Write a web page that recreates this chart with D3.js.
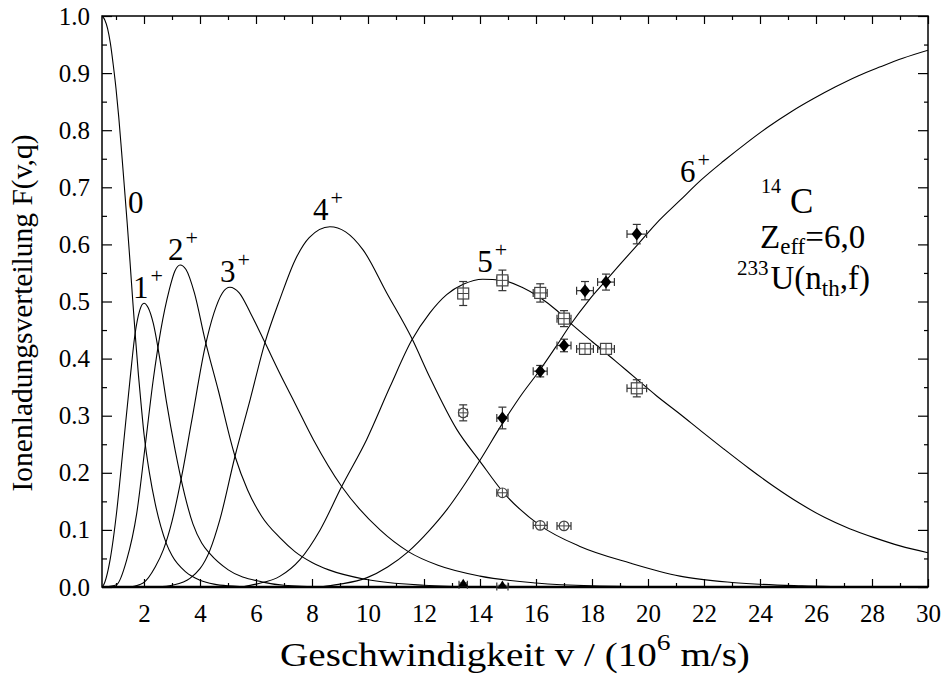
<!DOCTYPE html>
<html>
<head>
<meta charset="utf-8">
<script src="https://cdn.jsdelivr.net/npm/d3@7"></script>
<style>
  body { margin: 0; background: #fff; }
  svg text { font-family: "Liberation Serif", "Times New Roman", serif; fill: #000; }
</style>
</head>
<body>
<div id="chart"></div>
<script>
// charge state curves F(v,q) as [v, F]
const curve0 = [[0.5,1.0],[0.6,0.993],[0.7,0.978],[0.8,0.952],[0.9,0.915],[1.0,0.873],[1.1,0.822],[1.2,0.762],[1.3,0.70],[1.4,0.637],[1.5,0.57],[1.6,0.50],[1.7,0.434],[1.8,0.372],[1.9,0.318],[2.0,0.268],[2.2,0.198],[2.4,0.146],[2.6,0.106],[2.8,0.076],[3.0,0.055],[3.5,0.026],[4.0,0.012],[4.5,0.005],[5.0,0.002],[6.0,0.0]];
const curve1 = [[0.5,0.0],[0.55,0.003],[0.79,0.048],[1.02,0.13],[1.26,0.246],[1.5,0.363],[1.68,0.443],[1.85,0.485],[2.0,0.497],[2.15,0.489],[2.33,0.462],[2.57,0.398],[2.81,0.322],[3.11,0.24],[3.46,0.16],[3.75,0.11],[4.06,0.077],[4.36,0.058],[5.01,0.030],[6.2,0.009],[7.0,0.003],[8.5,0.0]];
const curve2 = [[0.6,0.0],[1.02,0.004],[1.38,0.047],[1.74,0.129],[2.04,0.246],[2.33,0.363],[2.6,0.45],[2.9,0.52],[3.1,0.553],[3.29,0.564],[3.5,0.556],[3.8,0.515],[4.18,0.433],[4.65,0.345],[5.25,0.229],[5.7,0.17],[6.2,0.124],[6.86,0.086],[7.39,0.062],[8.0,0.043],[8.6,0.03],[9.95,0.013],[12.0,0.003],[14.0,0.0]];
const curve3 = [[1.5,0.0],[1.97,0.007],[2.4,0.035],[2.69,0.065],[3.0,0.115],[3.35,0.195],[3.7,0.29],[4.18,0.42],[4.5,0.48],[4.8,0.515],[5.07,0.525],[5.4,0.515],[5.8,0.48],[6.32,0.428],[6.86,0.373],[7.39,0.322],[8.05,0.258],[9.06,0.176],[10.43,0.10],[11.44,0.062],[12.5,0.038],[14.0,0.019],[16.0,0.007],[18.0,0.002],[21.0,0.0]];
const curve4 = [[2.5,0.0],[3.0,0.003],[3.64,0.015],[4.36,0.065],[4.71,0.118],[5.25,0.229],[5.8,0.33],[6.32,0.428],[6.86,0.505],[7.39,0.572],[7.9,0.612],[8.64,0.631],[9.2,0.622],[9.83,0.59],[10.67,0.515],[11.56,0.436],[12.21,0.367],[13.17,0.276],[14.0,0.22],[14.81,0.167],[16.14,0.108],[17.57,0.071],[19.36,0.042],[21.14,0.019],[23.0,0.008],[25.5,0.002],[28.0,0.0]];
const curve5 = [[5.5,0.0],[6.0,0.005],[6.86,0.019],[7.57,0.048],[8.29,0.10],[9.06,0.176],[9.95,0.258],[10.79,0.351],[11.56,0.432],[12.21,0.48],[12.81,0.512],[13.4,0.53],[14.1,0.539],[14.81,0.537],[15.5,0.525],[16.14,0.507],[16.7,0.486],[17.21,0.463],[18.0,0.43],[18.52,0.409],[19.0,0.389],[19.6,0.364],[20.3,0.335],[21.14,0.303],[21.9,0.273],[22.7,0.242],[23.6,0.208],[24.5,0.176],[25.4,0.147],[26.3,0.122],[27.2,0.102],[28.1,0.086],[29.0,0.072],[30.0,0.06]];
const curve6 = [[7.8,0.0],[8.4,0.001],[9.0,0.005],[9.95,0.016],[10.7,0.035],[11.44,0.062],[12.21,0.10],[12.81,0.135],[13.4,0.176],[14.0,0.222],[14.81,0.287],[15.5,0.338],[16.14,0.38],[16.7,0.42],[17.21,0.458],[17.9,0.503],[18.52,0.538],[19.0,0.565],[19.6,0.598],[20.3,0.637],[21.14,0.677],[21.9,0.713],[22.7,0.746],[23.5,0.777],[24.3,0.806],[25.1,0.832],[25.9,0.855],[26.7,0.876],[27.5,0.895],[28.3,0.911],[29.1,0.926],[30.0,0.94]];

// measured points
const vSquares = [13.4, 14.8, 16.15, 17.0, 17.75, 18.5, 19.6];
const fSquares = [0.514, 0.537, 0.515, 0.470, 0.417, 0.417, 0.348];
const eSquares = [0.021, 0.018, 0.016, 0.014, 0.006, 0.006, 0.015];
const vDiamonds = [14.8, 16.15, 17.0, 17.75, 18.5, 19.6];
const fDiamonds = [0.296, 0.378, 0.423, 0.519, 0.534, 0.618];
const eDiamonds = [0.019, 0.010, 0.011, 0.016, 0.014, 0.017];
const vCircles = [13.4, 14.8, 16.15, 17.0];
const fCircles = [0.305, 0.165, 0.108, 0.107];
const eCircles = [0.014, 0.004, 0.004, 0.004];
const vTriangles = [13.4, 14.8];
const fTriangles = [0.004, 0.001];
const eTriangles = [0.003, 0.002];
const dvByV = { 13.4: 0.15, 14.8: 0.2, 16.15: 0.25, 17.0: 0.25, 17.75: 0.3, 18.5: 0.3, 19.6: 0.35 };

const xMajor = [2, 4, 6, 8, 10, 12, 14, 16, 18, 20, 22, 24, 26, 28, 30];
const yMajor = [0.0, 0.1, 0.2, 0.3, 0.4, 0.5, 0.6, 0.7, 0.8, 0.9, 1.0];

const curveLabels = [
  { q: "0", v: 1.43, f: 0.655, plus: false },
  { q: "1", v: 1.61, f: 0.506, plus: true },
  { q: "2", v: 2.86, f: 0.573, plus: true },
  { q: "3", v: 4.71, f: 0.535, plus: true },
  { q: "4", v: 8.04, f: 0.643, plus: true },
  { q: "5", v: 13.9, f: 0.552, plus: true },
  { q: "6", v: 21.14, f: 0.71, plus: true },
];

const width = 948, height = 679;
const mLeft = 102, mRight = 928, mTop = 16, mBottom = 587;

const svg = d3.select("#chart").append("svg")
  .attr("width", width).attr("height", height);

const x = d3.scaleLinear().domain([0.5, 30]).range([mLeft, mRight]);
const y = d3.scaleLinear().domain([0, 1]).range([mBottom, mTop]);

// Axes with inward ticks
const range = (a, b, s) => d3.range(a, b + s / 2, s);
const xMinor = range(1, 29, 2);
const yMinor = range(0.05, 0.95, 0.1);

function axis(gen, tr, ticks, size, labels) {
  const g = svg.append("g").attr("transform", tr)
    .call(gen.tickValues(ticks).tickSize(-size).tickPadding(labels ? labels.pad : 0)
      .tickFormat(labels ? labels.fmt : () => ""));
  g.attr("font-family", null);
  g.select(".domain").remove();
  g.selectAll("line").attr("stroke", "#000").attr("stroke-width", 1.2);
  g.selectAll("text").attr("font-size", 25)
    .style("font-family", "'Liberation Serif', 'Times New Roman', serif");
  return g;
}
axis(d3.axisBottom(x), `translate(0,${mBottom})`, xMajor, 8, { pad: 17, fmt: d3.format("d") });
axis(d3.axisBottom(x), `translate(0,${mBottom})`, xMinor, 4);
axis(d3.axisTop(x), `translate(0,${mTop})`, xMajor, 8);
axis(d3.axisTop(x), `translate(0,${mTop})`, xMinor, 4);
axis(d3.axisLeft(y), `translate(${mLeft},0)`, yMajor, 10, { pad: 12, fmt: d3.format(".1f") });
axis(d3.axisLeft(y), `translate(${mLeft},0)`, yMinor, 5);
axis(d3.axisRight(y), `translate(${mRight},0)`, yMajor, 10);
axis(d3.axisRight(y), `translate(${mRight},0)`, yMinor, 4);

// frame
svg.append("rect").attr("x", mLeft).attr("y", mTop)
  .attr("width", mRight - mLeft).attr("height", mBottom - mTop)
  .attr("fill", "none").attr("stroke", "#000").attr("stroke-width", 1.5);
svg.append("line").attr("x1", mLeft).attr("x2", mRight).attr("y1", mBottom).attr("y2", mBottom)
  .attr("stroke", "#000").attr("stroke-width", 2.5);

// curves
svg.append("clipPath").attr("id", "plot").append("rect")
  .attr("x", mLeft).attr("y", mTop - 1).attr("width", mRight - mLeft).attr("height", mBottom - mTop + 1);
const line = d3.line().x(d => x(d[0])).y(d => y(d[1])).curve(d3.curveMonotoneX);
const plot = svg.append("g").attr("clip-path", "url(#plot)");
[curve0, curve1, curve2, curve3, curve4, curve5, curve6].forEach(c => {
  plot.append("path").attr("d", line(c)).attr("fill", "none")
    .attr("stroke", "#000").attr("stroke-width", 1.1);
});

// curve labels
curveLabels.forEach(l => {
  const t = svg.append("text").attr("x", x(l.v)).attr("y", y(l.f)).attr("font-size", 31).text(l.q);
  if (l.plus) t.append("tspan").attr("font-size", 22).attr("dy", -15).attr("dx", 2).text("+");
});

// data points with error bars
function errorBars(vs, fs, es) {
  const g = svg.append("g").attr("stroke", "#333").attr("stroke-width", 1.2).attr("fill", "none");
  vs.forEach((v, i) => {
    const cx = x(v), cy = y(fs[i]);
    const y1 = y(fs[i] + es[i]), y2 = y(fs[i] - es[i]);
    const x1 = x(v - dvByV[v]), x2 = x(v + dvByV[v]);
    g.append("line").attr("x1", cx).attr("x2", cx).attr("y1", y1).attr("y2", y2);
    g.append("line").attr("x1", cx - 4).attr("x2", cx + 4).attr("y1", y1).attr("y2", y1);
    g.append("line").attr("x1", cx - 4).attr("x2", cx + 4).attr("y1", y2).attr("y2", y2);
    g.append("line").attr("x1", x1).attr("x2", x2).attr("y1", cy).attr("y2", cy);
    g.append("line").attr("x1", x1).attr("x2", x1).attr("y1", cy - 4).attr("y2", cy + 4);
    g.append("line").attr("x1", x2).attr("x2", x2).attr("y1", cy - 4).attr("y2", cy + 4);
  });
}

errorBars(vSquares, fSquares, eSquares);
svg.append("g").selectAll("rect").data(vSquares).join("rect")
  .attr("x", d => x(d) - 5.5).attr("y", (d, i) => y(fSquares[i]) - 5.5)
  .attr("width", 11).attr("height", 11)
  .attr("fill", "#fff").attr("stroke", "#444").attr("stroke-width", 1.2);
svg.append("g").selectAll("path").data(vSquares).join("path")
  .attr("d", (d, i) => `M${x(d) - 5.5},${y(fSquares[i])}h11M${x(d)},${y(fSquares[i]) - 5.5}v11`)
  .attr("stroke", "#444").attr("stroke-width", 1);

errorBars(vCircles, fCircles, eCircles);
svg.append("g").selectAll("circle").data(vCircles).join("circle")
  .attr("cx", d => x(d)).attr("cy", (d, i) => y(fCircles[i])).attr("r", 4.8)
  .attr("fill", "#fff").attr("stroke", "#444").attr("stroke-width", 1.2);
svg.append("g").selectAll("path").data(vCircles).join("path")
  .attr("d", (d, i) => `M${x(d) - 4.8},${y(fCircles[i])}h9.6M${x(d)},${y(fCircles[i]) - 4.8}v9.6`)
  .attr("stroke", "#444").attr("stroke-width", 1);

errorBars(vDiamonds, fDiamonds, eDiamonds);
svg.append("g").selectAll("path").data(vDiamonds).join("path")
  .attr("d", (d, i) => `M${x(d)},${y(fDiamonds[i]) - 6.5}l5.2,6.5l-5.2,6.5l-5.2,-6.5z`)
  .attr("fill", "#000");

errorBars(vTriangles, fTriangles, eTriangles);
svg.append("g").selectAll("path").data(vTriangles).join("path")
  .attr("d", (d, i) => `M${x(d)},${y(fTriangles[i]) - 6}l5,8h-10z`)
  .attr("fill", "#000");

// annotation
const ann = svg.append("g");
ann.append("text").attr("x", 761).attr("y", 193).attr("font-size", 20).text("14");
ann.append("text").attr("x", 790).attr("y", 213).attr("font-size", 35).text("C");
const t2 = ann.append("text").attr("x", 760).attr("y", 248).attr("font-size", 33);
t2.append("tspan").text("Z");
t2.append("tspan").attr("font-size", 23).attr("dy", 6).text("eff");
t2.append("tspan").attr("dy", -6).text("=6,0");
const t3 = ann.append("text").attr("x", 737).attr("y", 289).attr("font-size", 33);
t3.append("tspan").attr("font-size", 21).attr("dy", -14).text("233");
t3.append("tspan").attr("dx", 2).attr("dy", 14).text("U(n");
t3.append("tspan").attr("font-size", 23).attr("dy", 7).text("th");
t3.append("tspan").attr("dy", -7).text(",f)");

// axis titles
const xt = svg.append("text")
  .attr("transform", "translate(515,666) scale(1.15,1)")
  .attr("text-anchor", "middle").attr("font-size", 34);
xt.append("tspan").text("Geschwindigkeit v / (10");
xt.append("tspan").attr("font-size", 24).attr("dy", -16).text("6");
xt.append("tspan").attr("dy", 16).text(" m/s)");

svg.append("text")
  .attr("transform", "translate(32,313) rotate(-90)")
  .attr("text-anchor", "middle").attr("font-size", 29.5)
  .text("Ionenladungsverteilung F(v,q)");
</script>
</body>
</html>
